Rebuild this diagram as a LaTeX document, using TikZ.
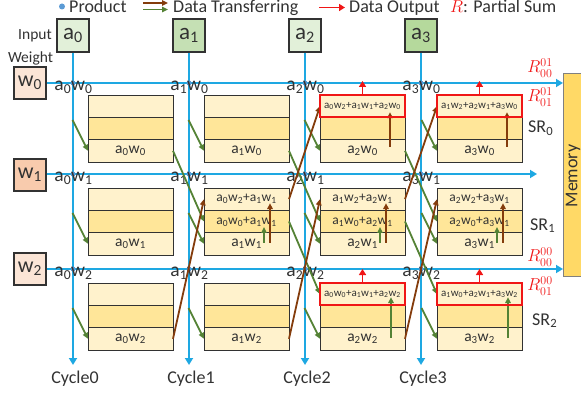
\documentclass[tikz,border=0pt]{standalone}
\usepackage{fontspec}
\setmainfont{Carlito}
\usetikzlibrary{arrows.meta,calc}

\definecolor{lineblue}{RGB}{30,168,226}
\definecolor{dotblue}{RGB}{91,155,213}
\definecolor{grn}{RGB}{84,130,53}
\definecolor{brn}{RGB}{132,60,12}
\definecolor{outred}{RGB}{240,22,22}
\definecolor{inA}{RGB}{226,240,217}
\definecolor{inB}{RGB}{197,224,180}
\definecolor{inC}{RGB}{181,217,156}
\definecolor{wtA}{RGB}{251,229,214}
\definecolor{wtB}{RGB}{248,203,173}
\definecolor{cellLt}{RGB}{255,242,204}
\definecolor{cellDk}{RGB}{255,230,153}
\definecolor{memgold}{RGB}{255,217,102}
\definecolor{ink}{RGB}{50,50,50}

% a_i w_j product text
\newcommand\aw[2]{a\textsubscript{#1}w\textsubscript{#2}}
\newcommand\sumtwo{\fontsize{13.5}{14}\selectfont}
\newcommand\sumthree{\fontsize{11}{12}\selectfont}

% one processing cell: three stacked rows (top, middle, bottom)
\newcommand\cellbox[6]{%
  \node[lt] (#1t) at (#2,#3) {#4};
  \node[dk] (#1m) at (#2,#3+22.33) {#5};
  \node[lt] (#1b) at (#2,#3+44.67) {#6};}

\tikzset{
  fs/.style={font=\fontsize{#1}{#1}\selectfont},
  lbl/.style={inner sep=0pt, text=ink},
  inbox/.style={draw=ink, line width=1.1pt, minimum width=32pt, minimum height=33pt, inner sep=0pt, fs=23, text=ink},
  wtbox/.style={draw=ink, line width=1.1pt, minimum size=32pt, inner sep=0pt, fs=22, text=ink},
  bus/.style={draw=lineblue, line width=2.6pt, -{Triangle[length=7pt,width=8pt]}},
  prod/.style={circle, fill=dotblue, minimum size=5pt, inner sep=0pt},
  prodlbl/.style={anchor=base, inner sep=0pt, fs=19.5, text=ink},
  cellrow/.style={draw=ink, line width=0.8pt, minimum width=85pt, minimum height=22.33pt, inner sep=0pt, outer sep=0pt, anchor=north west, text=ink, fs=15.5},
  lt/.style={cellrow, fill=cellLt},
  dk/.style={cellrow, fill=cellDk},
  outbox/.style={draw=outred, line width=2.2pt},
  grnar/.style={draw=grn, line width=1.8pt, -{Triangle[length=6pt,width=5.5pt]}},
  brnar/.style={draw=brn, line width=1.8pt, -{Triangle[length=6pt,width=5.5pt]}},
  redar/.style={draw=outred, line width=1.6pt, -{Triangle[length=6pt,width=7pt]}},
}

\begin{document}
\begin{tikzpicture}[x=1pt, y=-1pt]
\useasboundingbox (0,0) rectangle (581,398);

% ---------- legend ----------
\node[prod, minimum size=6pt] (legdot) at (62,6.5) {};
\node[lbl, fs=18, anchor=base west] (legprod) at (69,13) {Product};
\coordinate (lb1) at (143,3); \coordinate (lb2) at (168,3);
\coordinate (lg1) at (143,9.5);   \coordinate (lg2) at (168,9.5);
\draw[brnar] (lb1) -- (lb2);
\draw[grnar] (lg1) -- (lg2);
\node[lbl, fs=18, anchor=base west] (legdt) at (173,13) {Data Transferring};
\coordinate (lr1) at (319,7.5); \coordinate (lr2) at (345,7.5);
\draw[redar] (lr1) -- (lr2);
\node[lbl, fs=18, anchor=base west] (legdo) at (349,13) {Data Output};
\node[lbl, fs=18, anchor=base west] (legps) at (450,13) {\textcolor{outred}{$R$}: Partial Sum};

% ---------- inputs and weights ----------
\node[lbl, fs=15.5, anchor=base] (inlbl) at (35,40) {Input};
\node[lbl, fs=15.5, anchor=base] (wtlbl) at (30.5,63) {Weight};

\node[inbox, fill=inA] (in0) at (73,35.5)  {a\textsubscript{0}};
\node[inbox, fill=inB] (in1) at (189,35.5) {a\textsubscript{1}};
\node[inbox, fill=inA] (in2) at (305,35.5) {a\textsubscript{2}};
\node[inbox, fill=inC] (in3) at (421,35.5) {a\textsubscript{3}};

\node[wtbox, fill=wtA] (wt0) at (30,83)  {w\textsubscript{0}};
\node[wtbox, fill=wtB] (wt1) at (30,175) {w\textsubscript{1}};
\node[wtbox, fill=wtA] (wt2) at (30,269) {w\textsubscript{2}};

% ---------- memory ----------
\node[draw=gray, line width=1pt, fill=memgold, minimum width=21pt, minimum height=203pt,
      inner sep=0pt, anchor=north west] (mem) at (563,73) {};
\node[lbl, fs=18, rotate=90] (memtxt) at (573,176) {Memory};

% ---------- buses ----------
\coordinate (v0) at (73,365);  \coordinate (v1) at (189,365);
\coordinate (v2) at (305,365); \coordinate (v3) at (421,365);
\draw[bus] (in0) -- (v0);
\draw[bus] (in1) -- (v1);
\draw[bus] (in2) -- (v2);
\draw[bus] (in3) -- (v3);
\coordinate (h1) at (537,174);
\draw[bus] (wt0) -- (wt0 -| mem.west);
\draw[bus] (wt1.east |- h1) -- (h1);
\draw[bus] (wt2) -- (wt2 -| mem.west);

% products at the crossings
\foreach \c/\x in {0/73,1/189,2/305,3/421}{
  \foreach \r/\y in {0/83,1/174,2/269}{
    \node[prod] (d\c\r) at (\x,\y) {};
    \node[prodlbl] (p\c\r) at (\x+0.5,\y+7.5) {\aw{\c}{\r}};
  }}

% ---------- cycle labels ----------
\node[lbl, fs=18, anchor=base] (cy0) at (75,383)  {Cycle0};
\node[lbl, fs=18, anchor=base] (cy1) at (191,383) {Cycle1};
\node[lbl, fs=18, anchor=base] (cy2) at (307,383) {Cycle2};
\node[lbl, fs=18, anchor=base] (cy3) at (423,383) {Cycle3};

% ---------- cells ----------
\cellbox{c00}{88}{95}{}{}{\aw00}
\cellbox{c01}{88}{188}{}{}{\aw01}
\cellbox{c02}{88}{283}{}{}{\aw02}

\cellbox{c10}{204}{95}{}{}{\aw10}
\cellbox{c11}{204}{188}{\sumtwo\aw02+\aw11}{\sumtwo\aw00+\aw11}{\aw11}
\cellbox{c12}{204}{283}{}{}{\aw12}

\cellbox{c20}{320}{95}{\sumthree\aw02+\aw11+\aw20}{}{\aw20}
\cellbox{c21}{320}{188}{\sumtwo\aw12+\aw21}{\sumtwo\aw10+\aw21}{\aw21}
\cellbox{c22}{320}{283}{\sumthree\aw00+\aw11+\aw22}{}{\aw22}

\cellbox{c30}{437}{95}{\sumthree\aw12+\aw21+\aw30}{}{\aw30}
\cellbox{c31}{437}{188}{\sumtwo\aw22+\aw31}{\sumtwo\aw20+\aw31}{\aw31}
\cellbox{c32}{437}{283}{\sumthree\aw10+\aw21+\aw32}{}{\aw32}

% ---------- products entering the cells ----------
\foreach \c in {0,1,2,3}{
  \foreach \r in {0,1,2}{
    \draw[grnar] ([shift={(-15.5pt,-25pt)}]c\c\r t.north west) -- (c\c\r b.west);
  }}

% partial sums moving down-right (green)
\draw[grnar] (c00b.east) -- (c11m.west);
\draw[grnar] (c10b.east) -- (c21m.west);
\draw[grnar] (c20b.east) -- (c31m.west);
\draw[grnar] (c11m.east) -- (c22t.west);
\draw[grnar] (c21m.east) -- (c32t.west);

% partial sums moving up-right (brown)
\draw[brnar] (c02b.east) -- (c11t.west);
\draw[brnar] (c12b.east) -- (c21t.west);
\draw[brnar] (c22b.east) -- (c31t.west);
\draw[brnar] (c11t.east) -- (c20t.west);
\draw[brnar] (c21t.east) -- (c30t.west);

% accumulation inside the cells
\foreach \c in {1,2,3}{
  \draw[grnar] ([shift={(60pt,1pt)}]c\c1b.west) -- ([shift={(60pt,-5.5pt)}]c\c1m.west);
  \draw[brnar] ([shift={(66pt,1pt)}]c\c1b.west) -- ([shift={(66pt,-4pt)}]c\c1t.west);
}
\foreach \c in {2,3}{
  \draw[brnar] ([shift={(70pt,4pt)}]c\c0b.west) -- ([shift={(70pt,-6pt)}]c\c0t.west);
  \draw[grnar] ([shift={(71pt,1pt)}]c\c2b.west) -- ([shift={(71pt,-3pt)}]c\c2t.west);
}

% ---------- outputs ----------
\foreach \n in {c20,c30,c22,c32}{
  \draw[outbox] (\n t.north west) rectangle (\n t.south east);
  \coordinate (\n o) at ($(\n t.north)+(0,14pt)$);
  \draw[redar] (\n t.north) -- (\n o);
}

% ---------- partial-sum and shift-register labels ----------
\node[lbl, fs=17, text=outred] (r0a) at (540,68)  {$R^{01}_{00}$};
\node[lbl, fs=17, text=outred] (r0b) at (540,97)  {$R^{01}_{01}$};
\node[lbl, fs=17, text=outred] (r2a) at (540,257) {$R^{00}_{00}$};
\node[lbl, fs=17, text=outred] (r2b) at (540,286) {$R^{00}_{01}$};

\node[lbl, fs=18, anchor=base west] (sr0) at (528,133) {SR\textsubscript{0}};
\node[lbl, fs=18, anchor=base west] (sr1) at (530,230) {SR\textsubscript{1}};
\node[lbl, fs=18, anchor=base west] (sr2) at (532,325) {SR\textsubscript{2}};
\end{tikzpicture}
\end{document}
